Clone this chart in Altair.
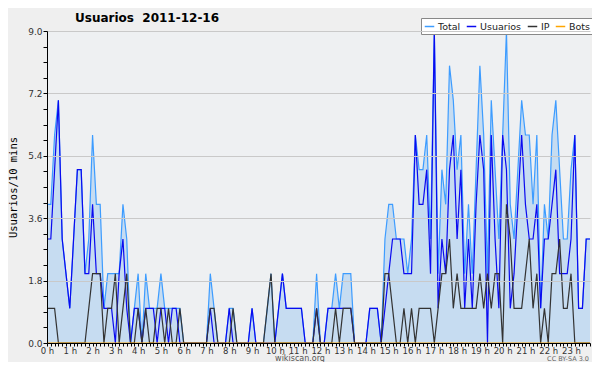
import altair as alt
import pandas as pd

# 10-minute steps over the day (144 values)
usuarios = [
    3, 3, 5, 7, 3, 2, 1, 3, 5, 5, 2, 2,
    4, 2, 2, 1, 1, 1, 0, 2, 3, 1, 0, 1,
    1, 0, 1, 1, 1, 0, 1, 1, 0, 1, 1, 0,
    0, 0, 0, 0, 0, 0, 0, 1, 0, 0, 0, 0,
    1, 0, 0, 0, 0, 0, 1, 0, 0, 0, 0, 0,
    0, 1, 2, 1, 1, 1, 1, 1, 0, 0, 0, 1,
    0, 0, 1, 1, 1, 1, 1, 1, 1, 0, 0, 0,
    0, 1, 1, 1, 0, 1, 2, 3, 3, 3, 2, 2,
    2, 6, 4, 4, 5, 2, 9, 1, 3, 2, 5, 6,
    3, 5, 1, 3, 1, 4, 6, 5, 0, 6, 3, 1,
    6, 5, 1, 2, 4, 6, 4, 3, 3, 4, 1, 3,
    3, 4, 5, 2, 2, 2, 3, 6, 1, 1, 3, 3,
]
ip = [
    1, 1, 1, 0, 0, 0, 0, 0, 0, 0, 0, 1,
    2, 2, 2, 0, 1, 1, 2, 0, 1, 2, 0, 0,
    1, 0, 1, 0, 0, 1, 1, 0, 1, 0, 0, 1,
    0, 0, 0, 0, 0, 0, 0, 1, 1, 0, 0, 0,
    0, 1, 0, 0, 0, 0, 0, 0, 0, 0, 1, 2,
    0, 0, 0, 0, 0, 0, 0, 0, 0, 0, 0, 1,
    0, 0, 0, 0, 1, 0, 1, 1, 1, 0, 0, 0,
    0, 0, 0, 0, 0, 2, 2, 1, 0, 0, 1, 0,
    1, 0, 1, 1, 1, 1, 0, 1, 2, 2, 3, 1,
    2, 1, 1, 1, 1, 1, 2, 1, 2, 1, 2, 2,
    0, 4, 3, 1, 1, 1, 2, 3, 1, 2, 0, 1,
    0, 2, 2, 3, 1, 1, 2, 0, 0, 0, 0, 0,
]
total = [
    4, 4, 6, 7, 3, 2, 1, 3, 5, 5, 2, 3,
    6, 4, 4, 1, 2, 2, 2, 2, 4, 3, 0, 1,
    2, 0, 2, 1, 1, 1, 2, 1, 1, 1, 1, 1,
    0, 0, 0, 0, 0, 0, 0, 2, 1, 0, 0, 0,
    1, 1, 0, 0, 0, 0, 1, 0, 0, 0, 1, 2,
    0, 1, 2, 1, 1, 1, 1, 1, 0, 0, 0, 2,
    0, 0, 1, 1, 2, 1, 2, 2, 2, 0, 0, 0,
    0, 1, 1, 1, 0, 3, 4, 4, 3, 3, 3, 2,
    3, 6, 5, 5, 6, 3, 9, 2, 5, 4, 8, 7,
    5, 6, 2, 4, 2, 5, 8, 6, 2, 7, 5, 3,
    6, 9, 4, 3, 5, 7, 6, 6, 4, 6, 1, 4,
    3, 6, 7, 5, 3, 3, 5, 6, 1, 1, 3, 3,
]
bots = [
    0, 0, 0, 0, 0, 0, 0, 0, 0, 0, 0, 0,
    0, 0, 0, 0, 0, 0, 0, 0, 0, 0, 0, 0,
    0, 0, 0, 0, 0, 0, 0, 0, 0, 0, 0, 0,
    0, 0, 0, 0, 0, 0, 0, 0, 0, 0, 0, 0,
    0, 0, 0, 0, 0, 0, 0, 0, 0, 0, 0, 0,
    0, 0, 0, 0, 0, 0, 0, 0, 0, 0, 0, 0,
    0, 0, 0, 0, 0, 0, 0, 0, 0, 0, 0, 0,
    0, 0, 0, 0, 0, 0, 0, 0, 0, 0, 0, 0,
    0, 0, 0, 0, 0, 0, 0, 0, 0, 0, 0, 0,
    0, 0, 0, 0, 0, 0, 0, 0, 0, 0, 0, 0,
    0, 0, 0, 0, 0, 0, 0, 0, 0, 0, 0, 0,
    0, 0, 0, 0, 0, 0, 0, 0, 0, 0, 0, 0,
]

series_names = ["Total", "Usuarios", "IP", "Bots"]
series_colors = ["#3d9cff", "#0a0af0", "#333333", "#ffa500"]
series_widths = [1.2, 1.2, 1.2, 1.0]
y_ticks = [0.0, 0.45, 0.9, 1.35, 1.8, 2.25, 2.7, 3.15, 3.6, 4.05, 4.5,
           4.95, 5.4, 5.85, 6.3, 6.75, 7.2, 7.65, 8.1, 8.55, 9.0]
title_text = "Usuarios\u00a0\u00a02011-12-16"
y_title = "Usuarios/10 mins"
site_text = "wikiscan.org"
license_text = "CC BY-SA 3.0"

n = len(total)
steps = list(range(n))
df = pd.DataFrame({
    "t": steps * 4,
    "serie": ["Total"] * n + ["Usuarios"] * n + ["IP"] * n + ["Bots"] * n,
    "value": total + usuarios + ip + bots,
})

FONT = "DejaVu Sans"
major = "round(datum.value*100) % 180 == 0"

xaxis = alt.Axis(
    values=steps,
    labelExpr="datum.value % 6 == 0 ? (datum.value / 6) + ' h' : ''",
    grid=False, tickSize=3, tickColor="#000", domainColor="#000",
    labelFontSize=8.5, labelFont=FONT, labelColor="#333",
    labelOverlap=False, labelFlush=False, labelPadding=0, zindex=1,
)
yaxis = alt.Axis(
    values=y_ticks,
    labelExpr=major + " ? format(datum.value, '.1f') : ''",
    gridOpacity={"condition": {"test": major, "value": 1}, "value": 0},
    gridColor="#c9c9c9", tickSize=4, tickColor="#000", domainColor="#000",
    labelFontSize=9, labelFont=FONT, labelColor="#333", labelPadding=1,
    labelOverlap=False, zindex=1,
    titleFont="DejaVu Sans Mono", titleFontSize=10.5, titleFontWeight="normal",
    titleColor="#000", titleX=-29, titleY=156,
)
legend = alt.Legend(
    orient="none", legendX=374, legendY=-13, direction="horizontal",
    title=None, symbolType="stroke", symbolSize=90, symbolStrokeWidth=1.5,
    labelFontSize=9.5, labelFont=FONT, labelColor="#222", labelOffset=3,
    columnPadding=2, padding=3, fillColor="white", strokeColor="#888",
)

x = alt.X("t:Q", scale=alt.Scale(domain=[0, n - 1], nice=False, zero=False),
          axis=xaxis, title=None)
y = alt.Y("value:Q", scale=alt.Scale(domain=[0, 9], nice=False),
          axis=yaxis, title=y_title)
color = alt.Color("serie:N", scale=alt.Scale(domain=series_names, range=series_colors),
                  legend=legend)

base = alt.Chart(df)
area = base.transform_filter("datum.serie == 'Total'").mark_area(
    color="#c6dcf1", opacity=1).encode(x=x, y=y)
lines = [
    base.transform_filter(f"datum.serie == '{s}'").mark_line(strokeWidth=w).encode(
        x=x, y=y, color=color)
    for s, w in zip(series_names, series_widths)
]

head = alt.Chart(pd.DataFrame({"txt": [title_text]})).mark_text(
    font=FONT, fontSize=12, fontWeight="bold", color="#000", align="left",
    baseline="alphabetic"
).encode(text="txt:N", x=alt.value(28), y=alt.value(-9))
foot = alt.Chart(pd.DataFrame({"txt": [site_text]})).mark_text(
    font=FONT, fontSize=8, color="#555", align="center", baseline="alphabetic"
).encode(text="txt:N", x=alt.value(253), y=alt.value(330))
lic = alt.Chart(pd.DataFrame({"txt": [license_text]})).mark_text(
    font=FONT, fontSize=6.5, color="#666", align="right", baseline="alphabetic"
).encode(text="txt:N", x=alt.value(542), y=alt.value(330))

chart = alt.layer(area, *lines, head, foot, lic).properties(
    width=543, height=312,
    padding={"left": 39, "top": 23, "right": 2, "bottom": 19},
    autosize=alt.AutoSizeParams(type="none"),
    background="#efefef",
).configure_view(stroke=None, fill="#eef0f2")

chart.save("out.html", embed_options={"renderer": "svg", "actions": False})
